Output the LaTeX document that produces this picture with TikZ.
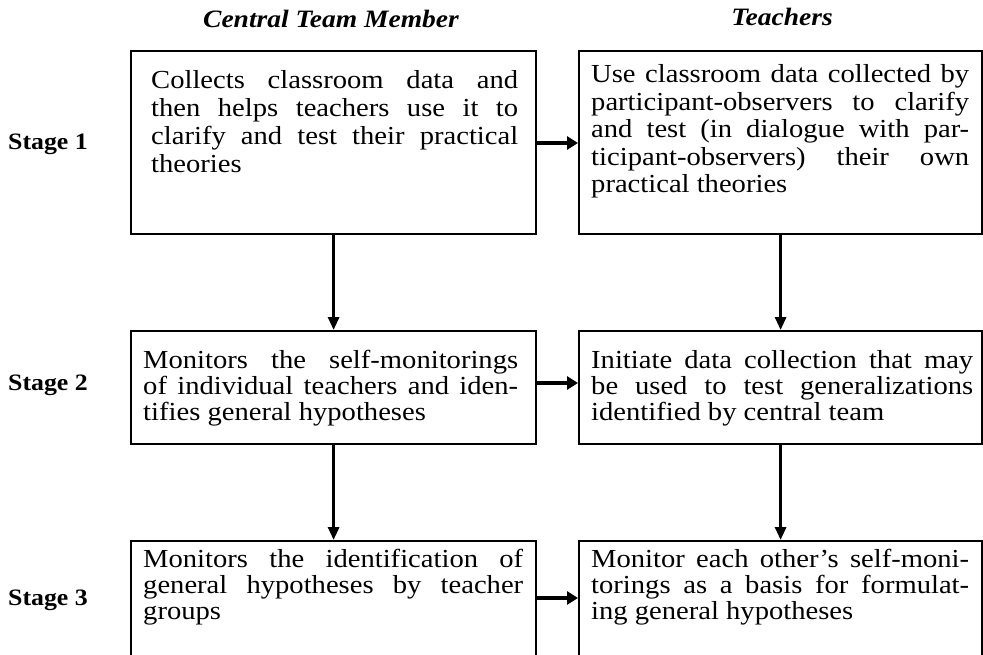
\documentclass[tikz,border=0pt]{standalone}
\usepackage{fontspec}
\setmainfont{Liberation Serif}[FakeStretch=1.1]
\usetikzlibrary{arrows.meta,calc}
\newcommand\jline[1]{\hbox to \hsize{#1}}
\newcommand\lline[1]{\hbox{#1}}
\newcommand\btext[3]{\vtop{\hsize=#1pt\baselineskip=#2pt\lineskiplimit=-100pt\parindent=0pt #3}}
\tikzset{
  box/.style={draw, line width=2.2pt, rectangle, inner sep=0pt, anchor=north west},
  txt/.style={inner sep=0pt, anchor=base west, font=\fontsize{26}{28}\selectfont},
  head/.style={inner sep=0pt, anchor=base, font=\fontsize{25}{27}\selectfont\bfseries\itshape},
  stagelbl/.style={inner sep=0pt, anchor=base, font=\fontsize{23.5}{25}\selectfont\bfseries},
  varrow/.style={line width=3pt, -{Triangle[length=13pt,width=11pt]}},
  harrow/.style={line width=4.5pt, -{Triangle[length=11pt,width=13pt]}},
}
\begin{document}
\begin{tikzpicture}[x=1pt,y=-1pt]
\useasboundingbox (0,0) rectangle (983,655);
\clip (0,0) rectangle (983,655);
% headers
\node[head] (h1) at (331,28) {Central Team Member};
\node[head] (h2) at (782,26) {Teachers};
% stage labels
\node[stagelbl] (s1) at (48,150) {Stage 1};
\node[stagelbl] (s2) at (48,390) {Stage 2};
\node[stagelbl] (s3) at (48,605) {Stage 3};
% boxes
\node[box, minimum width=405pt, minimum height=183pt] (L1) at (130,50) {};
\node[box, minimum width=403pt, minimum height=183pt] (R1) at (578,50) {};
\node[box, minimum width=405pt, minimum height=113pt] (L2) at (130,330) {};
\node[box, minimum width=403pt, minimum height=113pt] (R2) at (578,330) {};
\node[box, minimum width=405pt, minimum height=170pt] (L3) at (130,540) {};
\node[box, minimum width=403pt, minimum height=170pt] (R3) at (578,540) {};
% texts
\node[txt] (L1t) at (151,89) {\btext{367}{28}{%
  \jline{Collects classroom data and}
  \jline{then helps teachers use it to}
  \jline{clarify and test their practical}
  \lline{theories}}};
\node[txt] (R1t) at (591,83) {\btext{378}{27.5}{%
  \jline{Use classroom data collected by}
  \jline{participant-observers to clarify}
  \jline{and test (in dialogue with par-}
  \jline{ticipant-observers) their own}
  \lline{practical theories}}};
\node[txt] (L2t) at (143,368) {\btext{375}{26}{%
  \jline{Monitors the self-monitorings}
  \jline{of individual teachers and iden-}
  \lline{tifies general hypotheses}}};
\node[txt] (R2t) at (591,368) {\btext{382}{26}{%
  \jline{Initiate data collection that may}
  \jline{be used to test generalizations}
  \lline{identified by central team}}};
\node[txt] (L3t) at (143,567) {\btext{380}{26}{%
  \jline{Monitors the identification of}
  \jline{general hypotheses by teacher}
  \lline{groups}}};
\node[txt] (R3t) at (591,567) {\btext{378}{26}{%
  \jline{Monitor each other's self-moni-}
  \jline{torings as a basis for formulat-}
  \lline{ing general hypotheses}}};
% connectors
\draw[harrow] ($(L1.north east)+(0,93)$) -- ($(R1.north west)+(0,93)$);
\draw[harrow] ($(L2.north east)+(0,53)$) -- ($(R2.north west)+(0,53)$);
\draw[harrow] ($(L3.north east)+(0,58)$) -- ($(R3.north west)+(0,58)$);
\draw[varrow] (L1.south) -- (L2.north);
\draw[varrow] (R1.south) -- (R2.north);
\draw[varrow] (L2.south) -- (L3.north);
\draw[varrow] (R2.south) -- (R3.north);
\end{tikzpicture}
\end{document}
